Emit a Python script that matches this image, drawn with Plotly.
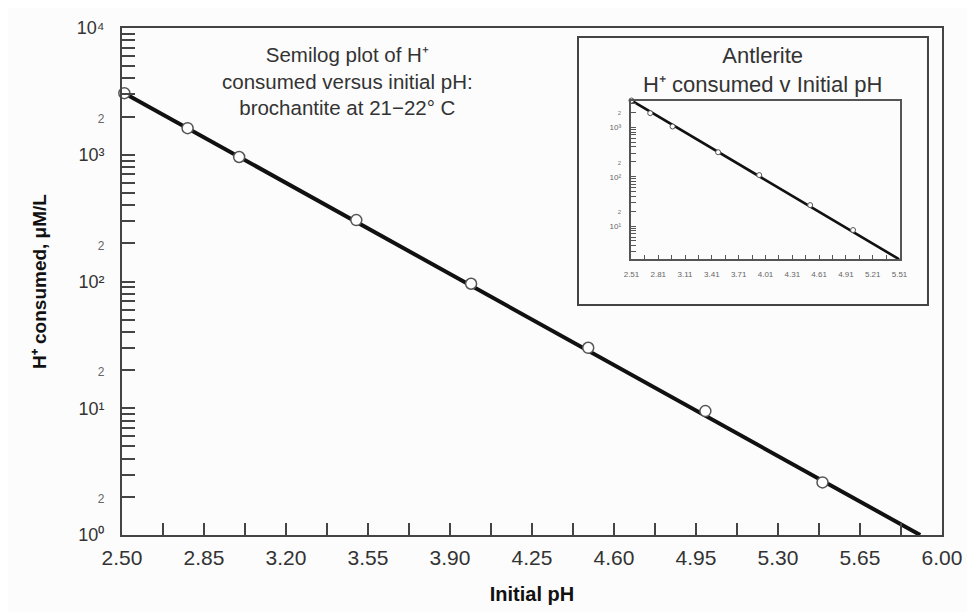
import math
import plotly.graph_objects as go

# ---------------- data ----------------
# Main chart: brochantite at 21-22 C
broch_ph = [2.51, 2.78, 3.00, 3.50, 3.99, 4.49, 4.99, 5.49]
broch_h = [3060, 1620, 960, 305, 96, 30, 9.5, 2.6]
# fitted straight line (end points)
broch_fit_ph = [2.51, 5.907]
broch_fit_h = [3060, 1.0]

# Inset: antlerite
ant_ph = [2.51, 2.72, 2.97, 3.48, 3.94, 4.51, 4.99, 5.51]
ant_h = [3500, 1940, 1040, 313, 108, 26.6, 8.3, 2.1]
ant_fit_ph = [2.51, 5.51]
ant_fit_h = [3500, 2.1]

# tick labels
main_x_labels = ["2.50", "2.85", "3.20", "3.55", "3.90", "4.25", "4.60",
                 "4.95", "5.30", "5.65", "6.00"]
inset_x_labels = ["2.51", "2.81", "3.11", "3.41", "3.71", "4.01", "4.31",
                  "4.61", "4.91", "5.21", "5.51"]
main_decades = [0, 1, 2, 3, 4]
inset_decades = [0, 1, 2, 3]

FONT = "Liberation Sans, Arial, Helvetica, sans-serif"
TXT = "#333333"
AX = "#444444"
BG = "#fcfcfc"
SUP = "⁰¹²³⁴⁵⁶⁷⁸⁹"


def x_ticks(labels):
    nums = [float(s) for s in labels]
    minor = [(a + b) / 2 for a, b in zip(nums[:-1], nums[1:])]
    return nums, list(labels), minor


def log_ticks(decades, lo, hi, two_size, two_color):
    vals, texts, minor = [], [], []
    for d in decades:
        for m in range(1, 10):
            v = m * 10 ** d
            if v < lo * 0.999 or v > hi * 1.001:
                continue
            if m == 1:
                vals.append(v)
                texts.append("10" + SUP[d])
            elif m == 2:
                vals.append(v)
                texts.append('<span style="font-size:%dpx;color:%s">2</span>'
                             % (two_size, two_color))
            else:
                minor.append(v)
    return vals, texts, minor


mx_vals, mx_text, mx_minor = x_ticks(main_x_labels)
ix_vals, ix_text, ix_minor = x_ticks(inset_x_labels)
my_vals, my_text, my_minor = log_ticks(main_decades, 1, 10000, 12, "#666666")
iy_vals, iy_text, iy_minor = log_ticks(inset_decades, min(ant_h), max(ant_h),
                                       6, "#777777")

fig = go.Figure()

# main fitted line + points
fig.add_trace(go.Scatter(x=broch_fit_ph, y=broch_fit_h, mode="lines",
                         line=dict(color="#111111", width=4),
                         showlegend=False, hoverinfo="skip"))
fig.add_trace(go.Scatter(x=broch_ph, y=broch_h, mode="markers",
                         marker=dict(symbol="circle", size=11, color="white",
                                     line=dict(color="#555555", width=1.5)),
                         cliponaxis=False, showlegend=False,
                         name="Brochantite"))

# inset fitted line + points
fig.add_trace(go.Scatter(x=ant_fit_ph, y=ant_fit_h, mode="lines",
                         xaxis="x2", yaxis="y2",
                         line=dict(color="#111111", width=2.6),
                         showlegend=False, hoverinfo="skip"))
fig.add_trace(go.Scatter(x=ant_ph, y=ant_h, mode="markers",
                         xaxis="x2", yaxis="y2",
                         marker=dict(symbol="circle", size=5, color="white",
                                     line=dict(color="#555555", width=1)),
                         cliponaxis=False, showlegend=False,
                         name="Antlerite"))

fig.update_layout(
    width=967, height=604,
    margin=dict(l=114, r=33, t=20, b=77, pad=0, autoexpand=False),
    paper_bgcolor=BG, plot_bgcolor=BG,
    font=dict(family=FONT, color=TXT),
    xaxis=dict(
        type="linear", range=[2.5, 6.0], domain=[0, 1], automargin=False,
        tickmode="array", tickvals=mx_vals, ticktext=mx_text,
        ticks="inside", ticklen=12, tickwidth=1.5, tickcolor=AX,
        minor=dict(tickmode="array", tickvals=mx_minor, ticks="inside",
                   ticklen=12, tickwidth=1.5, tickcolor=AX, showgrid=False),
        tickfont=dict(size=21, color=TXT, family=FONT),
        ticklabelstandoff=3,
        showline=True, linecolor=AX, linewidth=2, mirror=True,
        showgrid=False, zeroline=False,
        title=dict(text="<b>Initial pH</b>", font=dict(size=20, color="#111111"),
                   standoff=19),
    ),
    yaxis=dict(
        type="log", range=[0, 4], domain=[0, 1], automargin=False,
        tickmode="array", tickvals=my_vals, ticktext=my_text,
        ticks="inside", ticklen=13, tickwidth=1.5, tickcolor=AX,
        minor=dict(tickmode="array", tickvals=my_minor, ticks="inside",
                   ticklen=13, tickwidth=1.5, tickcolor=AX, showgrid=False),
        tickfont=dict(size=18, color=TXT, family=FONT),
        ticklabelstandoff=12,
        showline=True, linecolor=AX, linewidth=2, mirror=True,
        showgrid=False, zeroline=False,
        title=dict(text="<b>H⁺ consumed, μM/L</b>",
                   font=dict(size=19, color="#111111"), standoff=25),
    ),
    xaxis2=dict(
        type="linear", range=[min(ant_ph), max(ant_ph)], automargin=False,
        domain=[0.6213, 0.9482], anchor="y2",
        tickmode="array", tickvals=ix_vals, ticktext=ix_text,
        ticks="inside", ticklen=5, tickwidth=1, tickcolor="#555555",
        minor=dict(tickmode="array", tickvals=ix_minor, ticks="inside",
                   ticklen=5, tickwidth=1, tickcolor="#555555", showgrid=False),
        tickfont=dict(size=8, color="#666666", family=FONT),
        ticklabelstandoff=6,
        showline=True, linecolor="#555555", linewidth=1.5, mirror=True,
        showgrid=False, zeroline=False,
    ),
    yaxis2=dict(
        type="log", automargin=False,
        range=[math.log10(min(ant_h)), math.log10(max(ant_h))],
        domain=[0.5434, 0.857], anchor="x2",
        tickmode="array", tickvals=iy_vals, ticktext=iy_text,
        ticks="inside", ticklen=5, tickwidth=1, tickcolor="#555555",
        minor=dict(tickmode="array", tickvals=iy_minor, ticks="inside",
                   ticklen=5, tickwidth=1, tickcolor="#555555", showgrid=False),
        tickfont=dict(size=8, color="#666666", family=FONT),
        ticklabelstandoff=7,
        showline=True, linecolor="#555555", linewidth=1.5, mirror=True,
        showgrid=False, zeroline=False,
    ),
    shapes=[dict(type="rect", xref="paper", yref="paper",
                 x0=0.5561, x1=0.9829, y0=0.4536, y1=0.9822,
                 line=dict(color="#444444", width=2),
                 fillcolor=BG, layer="below")],
    annotations=[
        dict(xref="paper", yref="paper", x=0.2744, y=0.8955,
             xanchor="center", yanchor="middle", showarrow=False,
             align="center",
             text="Semilog plot of H⁺<br>consumed versus initial pH:"
                  "<br>brochantite at 21−22° C",
             font=dict(size=20.5, color=TXT, family=FONT)),
        dict(xref="paper", yref="paper", x=0.7817, y=0.917,
             xanchor="center", yanchor="middle", showarrow=False,
             align="center",
             text="Antlerite<br>H⁺ consumed v Initial pH",
             font=dict(size=22, color=TXT, family=FONT)),
    ],
)

fig.write_html("out.html")
